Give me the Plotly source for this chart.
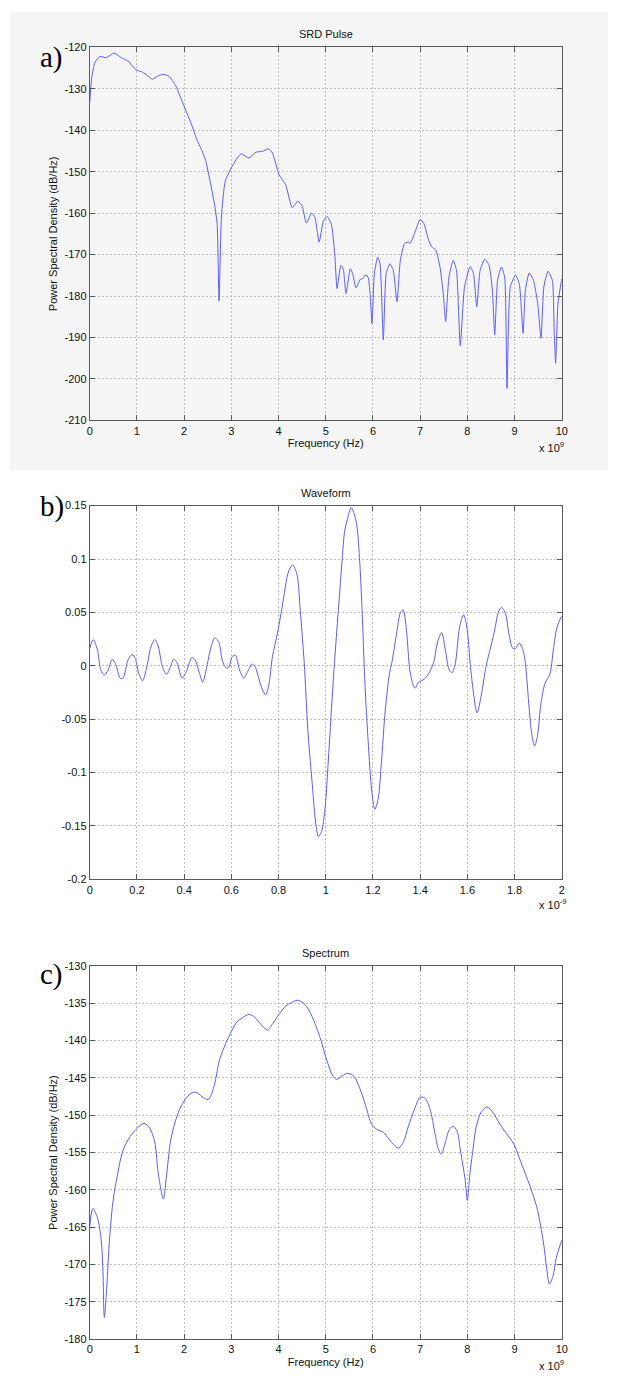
import numpy as np
import plotly.graph_objects as go

# ---------------- data ----------------
# a) SRD Pulse : frequency in GHz, PSD in dB/Hz
freq_a_ghz = [0, 0.04, 0.11, 0.22, 0.35, 0.51, 0.67, 0.81, 0.98, 1.12, 1.22, 1.33, 1.43, 1.55,
              1.68, 1.82, 1.92, 2.06, 2.16, 2.27, 2.37, 2.46, 2.55, 2.65, 2.70, 2.74, 2.79, 2.87,
              3.00, 3.10, 3.21, 3.37, 3.52, 3.66, 3.79, 3.87, 4.01, 4.15, 4.29, 4.41, 4.50, 4.59,
              4.70, 4.77, 4.86, 4.95, 5.03, 5.12, 5.19, 5.24, 5.32, 5.37, 5.43, 5.52, 5.57, 5.64,
              5.73, 5.78, 5.85, 5.90, 5.94, 5.98, 6.03, 6.10, 6.15, 6.22, 6.28, 6.36, 6.43, 6.51,
              6.58, 6.67, 6.76, 6.79, 6.90, 7.00, 7.08, 7.17, 7.24, 7.33, 7.42, 7.49, 7.54, 7.61,
              7.70, 7.77, 7.85, 7.94, 8.06, 8.13, 8.20, 8.27, 8.37, 8.46, 8.53, 8.58, 8.64, 8.72,
              8.79, 8.84, 8.91, 9.02, 9.10, 9.18, 9.23, 9.31, 9.40, 9.49, 9.56, 9.62, 9.71, 9.80,
              9.84, 9.87, 9.92, 10.0]
psd_a = [-133.3, -127.6, -123.6, -122.2, -122.5, -121.4, -122.5, -123.3, -125.4, -126.0, -126.8,
         -127.7, -127.0, -126.5, -127.0, -129.2, -132.0, -135.9, -138.7, -142.3, -144.7, -147.5,
         -152.3, -158.3, -162.7, -181.2, -161.0, -152.3, -149.1, -147.1, -145.7, -146.7, -145.3,
         -145.1, -144.5, -145.5, -150.7, -153.1, -158.7, -157.1, -158.3, -162.4, -160.0, -161.0,
         -167.0, -161.9, -160.8, -162.7, -169.8, -178.2, -172.6, -173.4, -179.4, -173.4, -174.6,
         -178.0, -176.0, -175.8, -174.8, -175.6, -179.4, -186.6, -174.6, -170.6, -172.2, -190.6,
         -174.6, -172.2, -173.8, -181.4, -171.4, -167.3, -167.0, -167.3, -164.3, -161.5, -162.5,
         -166.2, -168.1, -168.9, -173.0, -179.4, -186.2, -175.4, -171.4, -173.8, -192.0, -177.8,
         -172.9, -174.6, -182.6, -173.8, -171.1, -172.6, -178.6, -189.4, -176.2, -173.0, -175.4,
         -202.3, -177.8, -175.0, -177.0, -189.0, -178.6, -174.4, -176.2, -181.8, -190.2, -177.8,
         -174.0, -176.2, -189.0, -196.2, -181.8, -175.8]

# b) Waveform : time in ns, amplitude
time_b_ns = [0, 0.015, 0.033, 0.047, 0.061, 0.078, 0.095, 0.109, 0.129, 0.141, 0.162, 0.180,
             0.193, 0.208, 0.224, 0.242, 0.259, 0.276, 0.291, 0.308, 0.326, 0.342, 0.356, 0.370,
             0.391, 0.409, 0.433, 0.447, 0.465, 0.479, 0.496, 0.514, 0.530, 0.548, 0.562, 0.579,
             0.590, 0.603, 0.617, 0.635, 0.653, 0.669, 0.688, 0.701, 0.718, 0.732, 0.746, 0.760,
             0.774, 0.795, 0.815, 0.843, 0.860, 0.878, 0.892, 0.909, 0.924, 0.941, 0.957, 0.969,
             0.982, 0.997, 1.013, 1.031, 1.049, 1.066, 1.080, 1.091, 1.108, 1.129, 1.143, 1.154,
             1.166, 1.180, 1.194, 1.208, 1.222, 1.236, 1.250, 1.268, 1.282, 1.300, 1.317, 1.328,
             1.342, 1.356, 1.370, 1.379, 1.393, 1.417, 1.435, 1.456, 1.474, 1.491, 1.507, 1.523,
             1.535, 1.549, 1.567, 1.584, 1.598, 1.612, 1.626, 1.641, 1.658, 1.679, 1.699, 1.717,
             1.731, 1.745, 1.762, 1.776, 1.793, 1.804, 1.820, 1.834, 1.846, 1.860, 1.874, 1.885,
             1.897, 1.912, 1.929, 1.950, 1.964, 1.980, 2.0]
amp_b = [0.0161, 0.0245, 0.0146, -0.0040, -0.0086, -0.0040, 0.0059, 0.0021, -0.0117, -0.0117,
         0.0053, 0.0106, 0.0068, -0.0071, -0.0142, -0.0009, 0.0176, 0.0245, 0.0176, -0.0009,
         -0.0080, -0.0009, 0.0062, 0.0028, -0.0117, -0.0056, 0.0078, 0.0053, -0.0071, -0.0154,
         -0.0009, 0.0176, 0.0263, 0.0213, 0.0047, -0.0024, -0.0009, 0.0084, 0.0099, -0.0040,
         -0.0117, -0.0056, 0.0016, -0.0009, -0.0133, -0.0226, -0.0272, -0.0163, 0.0084, 0.0300,
         0.0547, 0.0888, 0.0943, 0.0857, 0.0517, 0.0022, -0.0596, -0.1060, -0.1462, -0.1600,
         -0.1555, -0.1339, -0.0813, -0.0163, 0.0393, 0.0888, 0.1259, 0.1367, 0.1481, 0.1352,
         0.1011, 0.0517, -0.0163, -0.0720, -0.1153, -0.1345, -0.1246, -0.0906, -0.0473, -0.0102,
         0.0053, 0.0300, 0.0501, 0.0523, 0.0331, -0.0040, -0.0179, -0.0210, -0.0154, -0.0126,
         -0.0077, 0.0022, 0.0223, 0.0310, 0.0146, -0.0040, -0.0065, 0.0022, 0.0362, 0.0477,
         0.0362, 0.0022, -0.0256, -0.0442, -0.0288, -0.0009, 0.0176, 0.0347, 0.0501, 0.0547,
         0.0486, 0.0300, 0.0161, 0.0161, 0.0213, 0.0161, 0.0022, -0.0349, -0.0659, -0.0751,
         -0.0659, -0.0349, -0.0163, -0.0077, 0.0146, 0.0362, 0.0470]

# c) Spectrum : frequency in GHz, PSD in dB/Hz
freq_c_ghz = [0, 0.066, 0.157, 0.24, 0.28, 0.31, 0.36, 0.42, 0.50, 0.585, 0.69, 0.82, 0.98, 1.15,
              1.27, 1.38, 1.45, 1.56, 1.62, 1.72, 1.85, 1.97, 2.12, 2.24, 2.38, 2.51, 2.63, 2.75,
              2.88, 3.00, 3.12, 3.25, 3.37, 3.50, 3.62, 3.77, 3.88, 4.01, 4.15, 4.28, 4.40, 4.53,
              4.65, 4.77, 4.90, 5.02, 5.14, 5.23, 5.35, 5.47, 5.60, 5.72, 5.85, 5.97, 6.08, 6.22,
              6.34, 6.46, 6.55, 6.65, 6.75, 6.88, 7.00, 7.10, 7.21, 7.31, 7.39, 7.45, 7.53, 7.62,
              7.70, 7.78, 7.86, 7.95, 8.00, 8.05, 8.11, 8.19, 8.30, 8.42, 8.55, 8.67, 8.81, 8.98,
              9.10, 9.22, 9.35, 9.47, 9.55, 9.62, 9.68, 9.74, 9.82, 9.88, 10.0]
psd_c = [-165.0, -162.5, -163.6, -166.5, -170.9, -177.1, -173.1, -166.5, -161.2, -158.1, -155.0,
         -153.2, -151.9, -151.1, -151.7, -153.7, -157.7, -161.2, -158.5, -153.2, -150.1, -148.4,
         -147.2, -146.9, -147.5, -147.9, -146.2, -142.6, -140.4, -138.8, -137.5, -136.9, -136.5,
         -136.9, -137.8, -138.6, -137.7, -136.5, -135.4, -134.9, -134.6, -135.0, -136.0, -137.7,
         -140.0, -142.6, -144.6, -145.2, -144.7, -144.4, -144.8, -146.4, -148.8, -151.2, -151.9,
         -152.3, -153.2, -154.1, -154.4, -153.5, -151.5, -149.2, -147.6, -147.7, -149.2, -152.3,
         -154.6, -155.2, -153.7, -151.9, -151.5, -152.1, -155.0, -158.5, -161.4, -158.1, -155.0,
         -151.5, -149.5, -148.9, -149.7, -151.0, -152.3, -153.8, -155.7, -157.7, -159.9, -162.3,
         -164.7, -167.4, -170.5, -172.6, -171.4, -169.2, -166.7]

freq_ticks = list(range(0, 11))
psd_a_ticks = [-210, -200, -190, -180, -170, -160, -150, -140, -130, -120]
amp_b_ticks = [-0.2, -0.15, -0.1, -0.05, 0, 0.05, 0.1, 0.15]
amp_b_ticktext = ["-0.2", "-0.15", "-0.1", "-0.05", "0", "0.05", "0.1", "0.15"]
time_b_ticks = [0, 0.2, 0.4, 0.6, 0.8, 1, 1.2, 1.4, 1.6, 1.8, 2]
time_b_ticktext = ["0", "0.2", "0.4", "0.6", "0.8", "1", "1.2", "1.4", "1.6", "1.8", "2"]
psd_c_ticks = [-180, -175, -170, -165, -160, -155, -150, -145, -140, -135, -130]

# ---------------- layout helpers ----------------
W, H = 620, 1378


def py(p):
    return 1 - p / H


def px(p):
    return p / W


LINE = "rgb(92,92,255)"
AXC = "#5a5a5a"
GRID = "#bcbcbc"
FONT = "Liberation Sans, Arial, sans-serif"

fig = go.Figure()
fig.add_trace(go.Scatter(x=np.array(freq_a_ghz) * 1e9, y=psd_a, mode="lines",
                         line=dict(color=LINE, width=1, shape="spline", smoothing=0.5),
                         xaxis="x", yaxis="y", showlegend=False))
fig.add_trace(go.Scatter(x=np.array(time_b_ns) * 1e-9, y=amp_b, mode="lines",
                         line=dict(color=LINE, width=1, shape="spline", smoothing=0.8),
                         xaxis="x2", yaxis="y2", showlegend=False))
fig.add_trace(go.Scatter(x=np.array(freq_c_ghz) * 1e9, y=psd_c, mode="lines",
                         line=dict(color=LINE, width=1, shape="spline", smoothing=0.9),
                         xaxis="x3", yaxis="y3", showlegend=False))

xdom = [px(88), px(567)]
common = dict(showline=True, linecolor=AXC, linewidth=1, mirror="ticks", ticks="inside",
              ticklen=5, tickcolor=AXC, showgrid=True, gridcolor=GRID, griddash="2px,2px",
              gridwidth=1, zeroline=False, tickfont=dict(family=FONT, size=11, color="#111"))

fig.update_layout(
    width=W, height=H, margin=dict(l=0, r=0, t=0, b=0),
    paper_bgcolor="white", plot_bgcolor="rgba(0,0,0,0)",
    xaxis=dict(domain=xdom, anchor="y", range=[0, 10e9],
               tickvals=[v * 1e9 for v in freq_ticks], ticktext=[str(v) for v in freq_ticks],
               title=dict(text="Frequency (Hz)", font=dict(family=FONT, size=11, color="#111"),
                          standoff=3), **common),
    yaxis=dict(domain=[py(418), py(41.7)], anchor="x", range=[-210, -120],
               tickvals=psd_a_ticks, ticktext=[str(v) for v in psd_a_ticks],
               title=dict(text="Power Spectral Density (dB/Hz)",
                          font=dict(family=FONT, size=11, color="#111"), standoff=4), **common),
    xaxis2=dict(domain=xdom, anchor="y2", range=[0, 2e-9],
                tickvals=[v * 1e-9 for v in time_b_ticks], ticktext=time_b_ticktext, **common),
    yaxis2=dict(domain=[py(881), py(504)], anchor="x2", range=[-0.2, 0.15],
                tickvals=amp_b_ticks, ticktext=amp_b_ticktext, **common),
    xaxis3=dict(domain=xdom, anchor="y3", range=[0, 10e9],
                tickvals=[v * 1e9 for v in freq_ticks], ticktext=[str(v) for v in freq_ticks],
                title=dict(text="Frequency (Hz)", font=dict(family=FONT, size=11, color="#111"),
                           standoff=3), **common),
    yaxis3=dict(domain=[py(1345), py(968.3)], anchor="x3", range=[-180, -130],
                tickvals=psd_c_ticks, ticktext=[str(v) for v in psd_c_ticks],
                title=dict(text="Power Spectral Density (dB/Hz)",
                           font=dict(family=FONT, size=11, color="#111"), standoff=4), **common),
)

# grey figure background of panel a
fig.add_shape(type="rect", xref="paper", yref="paper", x0=px(7), x1=px(614), y0=py(468), y1=py(6),
              fillcolor="#f5f5f5", line=dict(width=0), layer="below")

xc = (xdom[0] + xdom[1]) / 2
ann = []
for text, y in [("SRD Pulse", 28.7), ("Waveform", 491.7), ("Spectrum", 955.7)]:
    ann.append(dict(text=text, x=xc, y=py(y), xref="paper", yref="paper", showarrow=False,
                    xanchor="center", yanchor="middle", font=dict(family=FONT, size=11, color="#111")))
for text, y in [("a)", 52), ("b)", 505), ("c)", 977)]:
    ann.append(dict(text=text, x=px(36), y=py(y), xref="paper", yref="paper", showarrow=False,
                    xanchor="left", yanchor="middle",
                    font=dict(family="Liberation Serif, Times New Roman, serif", size=29, color="#000")))
for text, y in [("x 10<sup>9</sup>", 445), ("x 10<sup>-9</sup>", 906), ("x 10<sup>9</sup>", 1371)]:
    ann.append(dict(text=text, x=px(542), y=py(y), xref="paper", yref="paper", showarrow=False,
                    xanchor="left", yanchor="middle", font=dict(family=FONT, size=11, color="#111")))
fig.update_layout(annotations=ann)

fig.write_html("out.html")
